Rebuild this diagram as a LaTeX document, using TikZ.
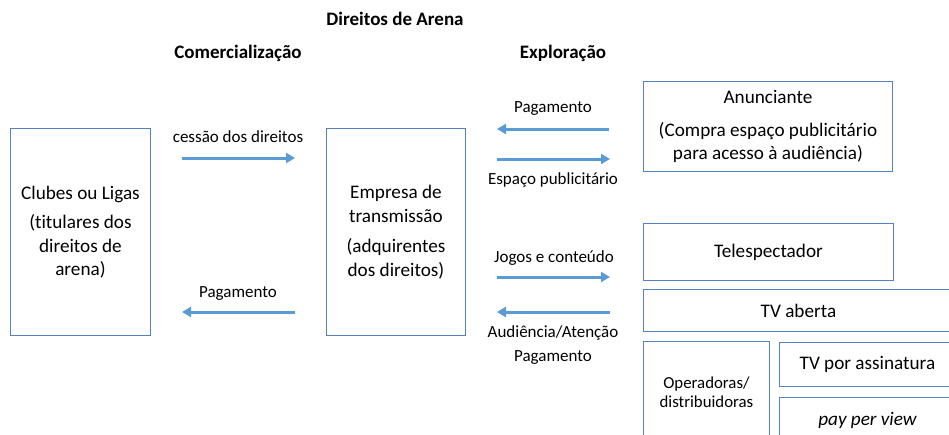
\documentclass[tikz,border=0pt]{standalone}
\usepackage{fontspec}
\setmainfont{Carlito}[Ligatures=NoCommon]
\usetikzlibrary{arrows.meta}
\definecolor{boxblue}{RGB}{84,130,190}
\definecolor{arrowblue}{RGB}{91,155,213}
\begin{document}
\begin{tikzpicture}[x=1pt,y=-1pt,
 box/.style={draw=boxblue, line width=0.9pt, rectangle, inner sep=0pt, align=center,
   font=\fontsize{19.2}{23.5}\selectfont, anchor=north west},
 lab/.style={font=\fontsize{17}{19}\selectfont, inner sep=0pt},
 ttl/.style={font=\bfseries\fontsize{19}{20}\selectfont, inner sep=0pt},
 flow/.style={draw=arrowblue, line width=3pt, -{Triangle[length=9pt,width=10pt]}}]
\useasboundingbox (0,0) rectangle (949,434);
\clip (0,0) rectangle (949,434);
% titles
\node[ttl] (title) at (395,19) {Direitos de Arena};
\node[ttl] (com) at (238,53) {Comercialização};
\node[ttl] (exp) at (563,53) {Exploração};
% boxes
\node[box, minimum width=140pt, minimum height=207pt] (clubes) at (10,128)
  {Clubes ou Ligas\\[6pt](titulares dos\\direitos de\\arena)};
\node[box, minimum width=139pt, minimum height=207pt] (empresa) at (326,128)
  {Empresa de\\transmissão\\[7pt](adquirentes\\dos direitos)};
\node[box, minimum width=249pt, minimum height=90pt] (anun) at (643,81)
  {Anunciante\\[9pt](Compra espaço publicitário\\para acesso à audiência)};
\node[box, minimum width=250pt, minimum height=57pt] (tele) at (643,223) {Telespectador};
\node[box, minimum width=310pt, minimum height=42pt] (aberta) at (643,289) {TV aberta};
\node[box, minimum width=126pt, minimum height=102pt, font=\fontsize{16.8}{19.5}\selectfont] (oper) at (643,341)
  {Operadoras/\\distribuidoras};
\node[box, minimum width=176pt, minimum height=44pt] (assin) at (779,342) {TV por assinatura};
\node[box, minimum width=176pt, minimum height=46pt] (ppv) at (779,397) {\itshape pay per view};
% arrow labels
\node[lab] (l1) at (238,137) {cessão dos direitos};
\node[lab] (l2) at (238,294) {Pagamento};
\node[lab] (l3) at (553,109) {Pagamento};
\node[lab] (l4) at (553,180) {Espaço publicitário};
\node[lab] (l5) at (554,258) {Jogos e conteúdo};
\node[lab] (l6) at (553,333) {Audiência/Atenção};
\node[lab] (l7) at (553,357) {Pagamento};
% arrow end points
\coordinate (a1s) at (182,158); \coordinate (a1e) at (295,158);
\coordinate (a2s) at (295,312); \coordinate (a2e) at (182,312);
\coordinate (a3s) at (609,129); \coordinate (a3e) at (497,129);
\coordinate (a4s) at (497,159); \coordinate (a4e) at (610,159);
\coordinate (a5s) at (497,277); \coordinate (a5e) at (610,277);
\coordinate (a6s) at (610,312); \coordinate (a6e) at (497,312);
\draw[flow] (a1s) -- (a1e);
\draw[flow] (a2s) -- (a2e);
\draw[flow] (a3s) -- (a3e);
\draw[flow] (a4s) -- (a4e);
\draw[flow] (a5s) -- (a5e);
\draw[flow] (a6s) -- (a6e);
\end{tikzpicture}
\end{document}
